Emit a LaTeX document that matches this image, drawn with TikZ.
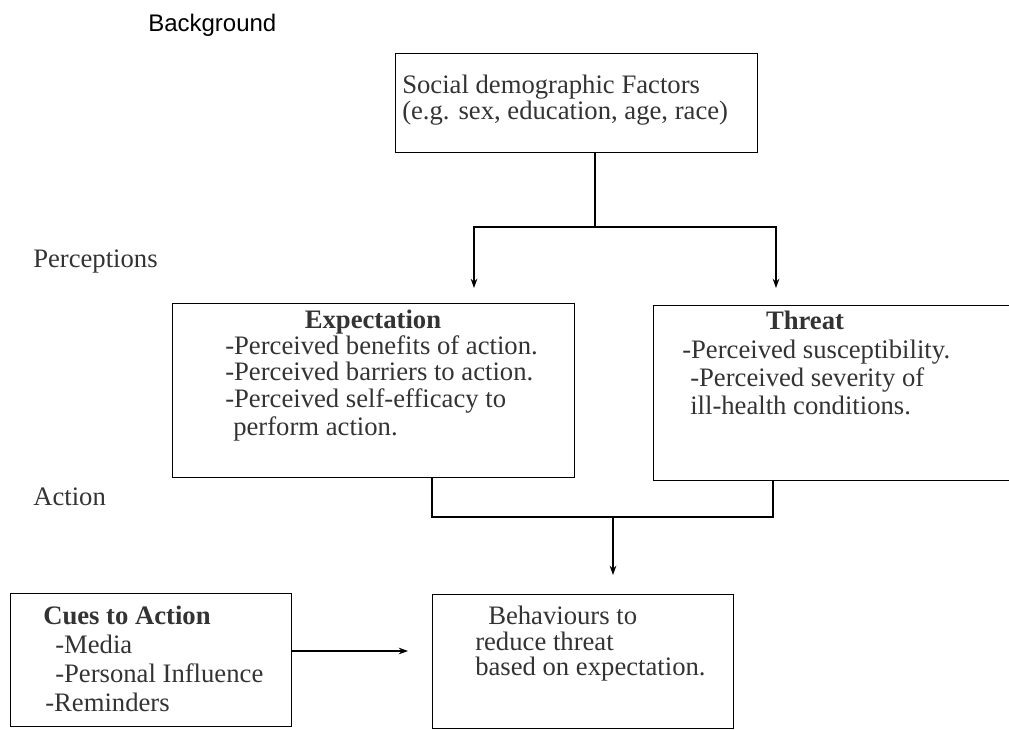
\documentclass[tikz,border=0pt]{standalone}
\usepackage{fontspec}
\setmainfont{Liberation Serif}
\setsansfont{Liberation Sans}
\usetikzlibrary{positioning,calc,arrows.meta}
\newcommand{\pxu}{0.75pt}
\tikzset{
    boxFrame/.style={draw, line width=0.9pt, rectangle, anchor=north west, inner sep=0pt},
    lineText/.style={anchor=base west, inner sep=0pt, text=black!80, font=\fontsize{20}{20}\selectfont},
    headText/.style={anchor=base, inner sep=0pt, text=black!80, font=\fontsize{20}{20}\selectfont\bfseries},
    link/.style={line width=0.9pt},
    arrowLink/.style={line width=0.9pt, -{Stealth[length=7pt,width=5pt]}}
}
\begin{document}
\begin{tikzpicture}[x=0.75pt,y=-0.75pt]
        \useasboundingbox (0,0) rectangle (1009,730);
        % stage labels
        \node[anchor=base west, inner sep=0pt, font=\sffamily\fontsize{18}{18}\selectfont] (bgLabel) at (148,32) {Background};
        \node[lineText] (percLabel) at (33,268) {Perceptions};
        \node[lineText] (actLabel) at (33,505) {Action};
        % boxes
        \node[boxFrame, minimum width=362*\pxu, minimum height=99*\pxu] (social) at (395,53) {};
        \node[boxFrame, minimum width=402*\pxu, minimum height=174*\pxu] (expect) at (172,303) {};
        \node[boxFrame, minimum width=370*\pxu, minimum height=175*\pxu] (threat) at (653,305) {};
        \node[boxFrame, minimum width=281*\pxu, minimum height=133*\pxu] (cues) at (10,593) {};
        \node[boxFrame, minimum width=301*\pxu, minimum height=134*\pxu] (behave) at (432,594) {};
        % box texts
        \node[lineText] (socialA) at (402,94) {Social demographic Factors};
        \node[lineText] (socialB) at (402,120) {(e.g. sex, education, age, race)};
        \node[headText] (expectHead) at (373,329) {Expectation};
        \node[lineText] (expectA) at (225,355) {-Perceived benefits of action.};
        \node[lineText] (expectB) at (225,381) {-Perceived barriers to action.};
        \node[lineText] (expectC) at (225,407) {-Perceived self-efficacy to};
        \node[lineText] (expectD) at (233,435) {perform action.};
        \node[headText] (threatHead) at (805,330) {Threat};
        \node[lineText] (threatA) at (682,359) {-Perceived susceptibility.};
        \node[lineText] (threatB) at (690,387) {-Perceived severity of};
        \node[lineText] (threatC) at (690,415) {ill-health conditions.};
        \node[lineText, font=\fontsize{20}{20}\selectfont\bfseries] (cuesHead) at (43,624) {Cues to Action};
        \node[lineText] (cuesA) at (55,653) {-Media};
        \node[lineText] (cuesB) at (55,682) {-Personal Influence};
        \node[lineText] (cuesC) at (45,711) {-Reminders};
        \node[lineText] (behaveA) at (488,624) {Behaviours to};
        \node[lineText] (behaveB) at (475,650) {reduce threat};
        \node[lineText] (behaveC) at (475,675) {based on expectation.};
        % connectors
        \coordinate (split) at (595,227);
        \coordinate (expIn) at (474,288);
        \coordinate (thrIn) at (776,288);
        \draw[link] (social.south -| split) -- (split);
        \draw[arrowLink] (split) -| (expIn);
        \draw[arrowLink] (split) -| (thrIn);
        \coordinate (expOut) at (432,517);
        \coordinate (thrOut) at (773,517);
        \coordinate (join) at (613,517);
        \coordinate (behIn) at (613,575);
        \draw[link] (expect.south -| expOut) -- (expOut) -- (thrOut) -- (threat.south -| thrOut);
        \draw[arrowLink] (join) -- (behIn);
        \coordinate (behLeft) at (408,651);
        \draw[arrowLink] (cues.east |- behLeft) -- (behLeft);
\end{tikzpicture}
\end{document}
